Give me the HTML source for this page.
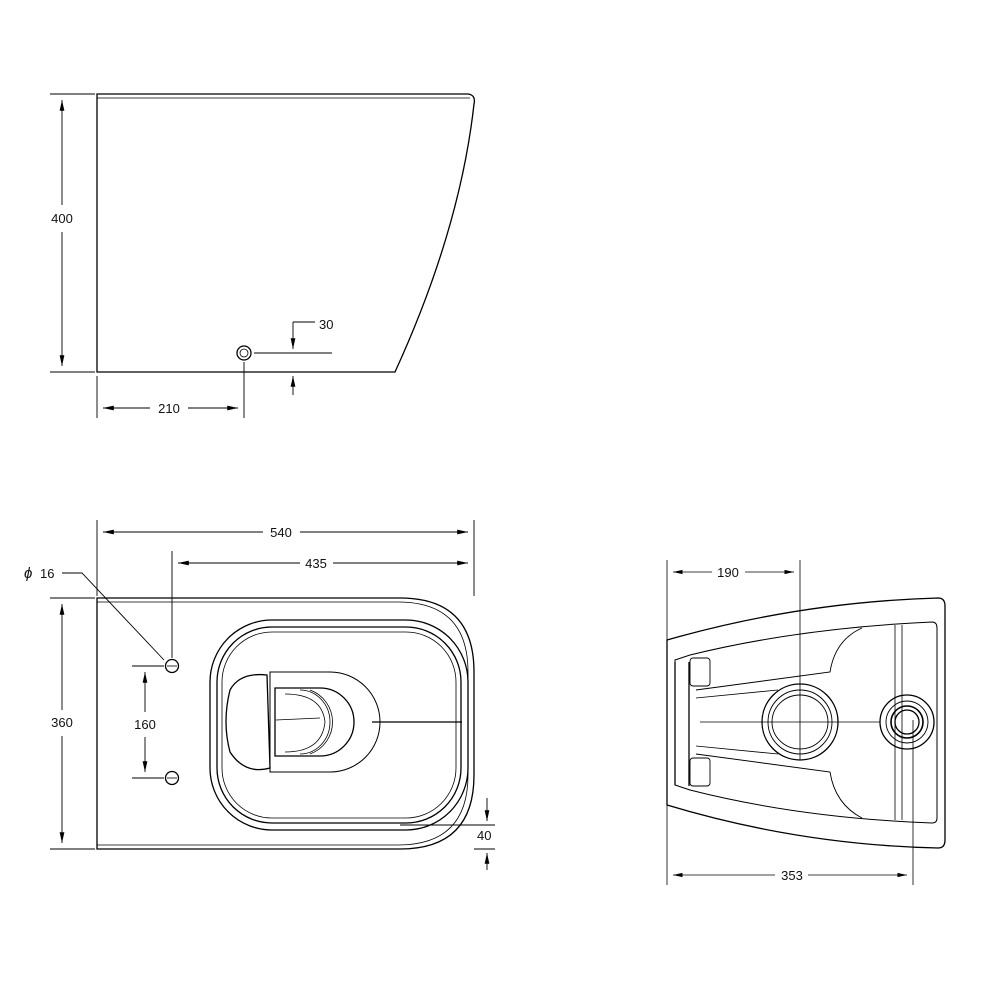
<!DOCTYPE html>
<html><head><style>html,body{margin:0;background:#fff}svg{display:block}text{font-family:"Liberation Sans",sans-serif;font-size:13px;fill:#111}</style></head>
<body>
<svg width="1000" height="1000" viewBox="0 0 1000 1000" xmlns="http://www.w3.org/2000/svg">
<defs>
<marker id="a" viewBox="0 0 10 10" refX="10" refY="5" markerWidth="12" markerHeight="12" orient="auto-start-reverse"><path d="M0,2.8 L10,5 L0,7.2 z" fill="#000"/></marker>
</defs>
<g fill="none" stroke="#000" stroke-width="1.3">
<!-- side view -->
<path d="M97,94 H468 Q476,95 474,104 Q460,230 395,372 H97 Z"/>
<line x1="97" y1="98" x2="470" y2="98" stroke-width="0.8"/>
<circle cx="244" cy="353" r="7"/><circle cx="244" cy="353" r="4" stroke-width="0.8"/>
<g stroke-width="0.9">
<line x1="50" y1="94" x2="95" y2="94"/><line x1="50" y1="372" x2="95" y2="372"/>
<line x1="62" y1="100" x2="62" y2="205" marker-start="url(#a)"/><line x1="62" y1="232" x2="62" y2="366" marker-end="url(#a)"/>
<line x1="97" y1="376" x2="97" y2="418"/><line x1="244" y1="362" x2="244" y2="418"/>
<line x1="103" y1="408" x2="150" y2="408" marker-start="url(#a)"/><line x1="188" y1="408" x2="238" y2="408" marker-end="url(#a)"/>
<line x1="254" y1="353" x2="332" y2="353"/>
<line x1="315" y1="322" x2="293" y2="322"/><line x1="293" y1="322" x2="293" y2="349" marker-end="url(#a)"/>
<line x1="293" y1="395" x2="293" y2="376" marker-end="url(#a)"/>
</g>
<!-- top view -->
<path d="M97,598 H400 Q474,598 474,672 V775 Q474,849 400,849 H97 Z"/>
<path d="M97,602 H398 Q468,602 468,672 V775 Q468,845 398,845 H97" stroke-width="0.8"/>
<rect x="210" y="620" width="258" height="210" rx="62"/>
<rect x="217" y="627" width="244" height="196" rx="55"/>
<rect x="222" y="632" width="234" height="186" rx="50" stroke-width="0.8"/>
<path d="M267,675 Q240,672 230,690 Q222,722 230,752 Q245,775 270,768 Z"/>
<path d="M270,672 H330 A50,50 0 0 1 330,772 H270 Z" stroke-width="1"/>
<path d="M275,688 H320 A34,34 0 0 1 320,756 H275 Z"/>
<path d="M285,694 Q322,694 325,722 Q322,752 285,752" stroke-width="0.8"/>
<path d="M300,690 A30,32 0 0 1 300,754 M310,690 A34,34 0 0 1 310,754" stroke-width="0.8"/>
<line x1="372" y1="722" x2="462" y2="722"/>
<line x1="276" y1="720" x2="320" y2="718" stroke-width="0.7"/>
<circle cx="172" cy="666" r="6.5"/><circle cx="172" cy="778" r="6.5"/>
<line x1="167" y1="666" x2="177" y2="666" stroke-width="0.8"/><line x1="167" y1="778" x2="177" y2="778" stroke-width="0.8"/>
<g stroke-width="0.9">
<line x1="97" y1="520" x2="97" y2="596"/><line x1="474" y1="520" x2="474" y2="596"/><line x1="172" y1="551" x2="172" y2="658"/>
<line x1="103" y1="532" x2="263" y2="532" marker-start="url(#a)"/><line x1="300" y1="532" x2="468" y2="532" marker-end="url(#a)"/>
<line x1="178" y1="563" x2="300" y2="563" marker-start="url(#a)"/><line x1="333" y1="563" x2="468" y2="563" marker-end="url(#a)"/>
<path d="M62,573 H82 L164,660"/>
<line x1="50" y1="598" x2="95" y2="598"/><line x1="50" y1="849" x2="95" y2="849"/>
<line x1="62" y1="604" x2="62" y2="710" marker-start="url(#a)"/><line x1="62" y1="736" x2="62" y2="843" marker-end="url(#a)"/>
<line x1="132" y1="666" x2="164" y2="666"/><line x1="132" y1="778" x2="164" y2="778"/>
<line x1="145" y1="672" x2="145" y2="712" marker-start="url(#a)"/><line x1="145" y1="737" x2="145" y2="772" marker-end="url(#a)"/>
<line x1="400" y1="825" x2="495" y2="825"/><line x1="474" y1="849" x2="495" y2="849"/>
<line x1="487" y1="798" x2="487" y2="821" marker-end="url(#a)"/><line x1="487" y1="870" x2="487" y2="853" marker-end="url(#a)"/>
</g>
<!-- bottom view -->
<path d="M667,640 Q800,602 938,598 Q945,598 945,606 V840 Q945,848 938,848 Q800,845 667,805 Z"/>
<path d="M675,660 L690,655 Q800,628 932,622 Q937,622 937,628 V818 Q937,823 932,823 Q800,818 690,790 L675,785 Z" stroke-width="1"/>
<line x1="675" y1="662" x2="675" y2="785"/><line x1="689" y1="662" x2="689" y2="786"/>
<rect x="690" y="658" width="20" height="28" rx="3" stroke-width="0.9"/><rect x="690" y="758" width="20" height="28" rx="3" stroke-width="0.9"/>
<path d="M696,690 L830,672 Q835,640 862,628 M696,754 L830,772 Q835,804 862,818" stroke-width="0.9"/>
<path d="M696,698 L778,690 M696,746 L778,754" stroke-width="0.8"/>
<line x1="895" y1="625" x2="895" y2="820" stroke-width="0.8"/><line x1="902" y1="625" x2="902" y2="820" stroke-width="0.8"/>
<circle cx="800" cy="722" r="38"/><circle cx="800" cy="722" r="32" stroke-width="0.9"/>
<ellipse cx="800" cy="722" rx="28" ry="27" stroke-width="0.9"/>
<circle cx="907" cy="722" r="27"/><circle cx="907" cy="722" r="21" stroke-width="0.9"/><circle cx="907" cy="722" r="16" stroke-width="1.6"/><circle cx="907" cy="722" r="12"/>
<g stroke-width="0.8">
<line x1="700" y1="722" x2="880" y2="722"/>
<line x1="800" y1="560" x2="800" y2="760"/><line x1="913" y1="720" x2="913" y2="885"/>
<line x1="667" y1="560" x2="667" y2="885"/>
<line x1="673" y1="572" x2="712" y2="572" marker-start="url(#a)"/><line x1="745" y1="572" x2="794" y2="572" marker-end="url(#a)"/>
<line x1="673" y1="875" x2="775" y2="875" marker-start="url(#a)"/><line x1="808" y1="875" x2="907" y2="875" marker-end="url(#a)"/>
</g>
</g>
<text x="62" y="223" text-anchor="middle">400</text>
<text x="169" y="413" text-anchor="middle">210</text>
<text x="319" y="329">30</text>
<text x="281" y="537" text-anchor="middle">540</text>
<text x="316" y="568" text-anchor="middle">435</text>
<text x="24" y="578" style="font-style:italic;font-size:15px">ϕ</text><text x="40" y="578">16</text>
<text x="62" y="727" text-anchor="middle">360</text>
<text x="145" y="729" text-anchor="middle">160</text>
<text x="477" y="840">40</text>
<text x="728" y="577" text-anchor="middle">190</text>
<text x="792" y="880" text-anchor="middle">353</text>
</svg>
</body></html>
